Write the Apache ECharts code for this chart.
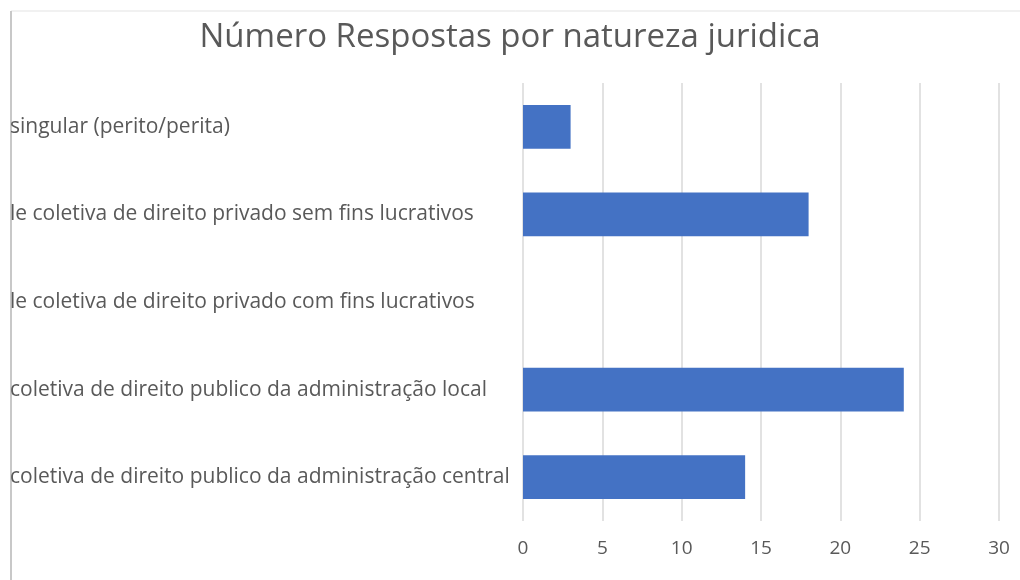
<!DOCTYPE html>
<html>
<head>
<meta charset="utf-8">
<script src="https://cdn.jsdelivr.net/npm/echarts@6/dist/echarts.min.js"></script>
<style>
  html, body { margin: 0; padding: 0; background: #fff; }
  #chart { width: 1020px; height: 580px; }
</style>
</head>
<body>
<div id="chart"></div>
<script>
var categories = [
  "singular (perito/perita)",
  "le coletiva de direito privado sem fins lucrativos",
  "le coletiva de direito privado com fins lucrativos",
  "coletiva de direito publico da administração local",
  "coletiva de direito publico da administração central"
];
var respostas = [3, 18, 0, 24, 14];

var chart = echarts.init(document.getElementById("chart"));
var txt = "#595959";

chart.setOption({
  animation: false,
  textStyle: { fontFamily: "Open Sans" },
  title: {
    text: "Número Respostas por natureza juridica",
    left: "center",
    top: 16,
    textStyle: { fontFamily: "Open Sans", fontSize: 33, fontWeight: "normal", color: txt }
  },
  graphic: [
    // frame edges of the cropped chart area
    { type: "line", shape: { x1: 11, y1: 11, x2: 1020, y2: 11 }, style: { stroke: "#e3e3e3", lineWidth: 1 } },
    { type: "line", shape: { x1: 11, y1: 11, x2: 11, y2: 580 }, style: { stroke: "#c8c8c8", lineWidth: 2 } }
  ],
  grid: { left: 523, right: 21, top: 83, bottom: 59 },
  xAxis: {
    type: "value",
    min: 0,
    max: 30,
    interval: 5,
    axisLine: { show: false },
    axisTick: { show: false },
    axisLabel: { color: txt, fontSize: 19, margin: 18 },
    splitLine: { lineStyle: { color: "#d9d9d9", width: 1.5 } }
  },
  yAxis: {
    type: "category",
    inverse: true,
    data: categories,
    axisLine: { show: false },
    axisTick: { show: false },
    axisLabel: { color: txt, fontSize: 21, align: "left", margin: 513 }
  },
  series: [{
    type: "bar",
    data: respostas,
    barWidth: "50%",
    itemStyle: { color: "#4472c4" }
  }]
});
</script>
</body>
</html>
